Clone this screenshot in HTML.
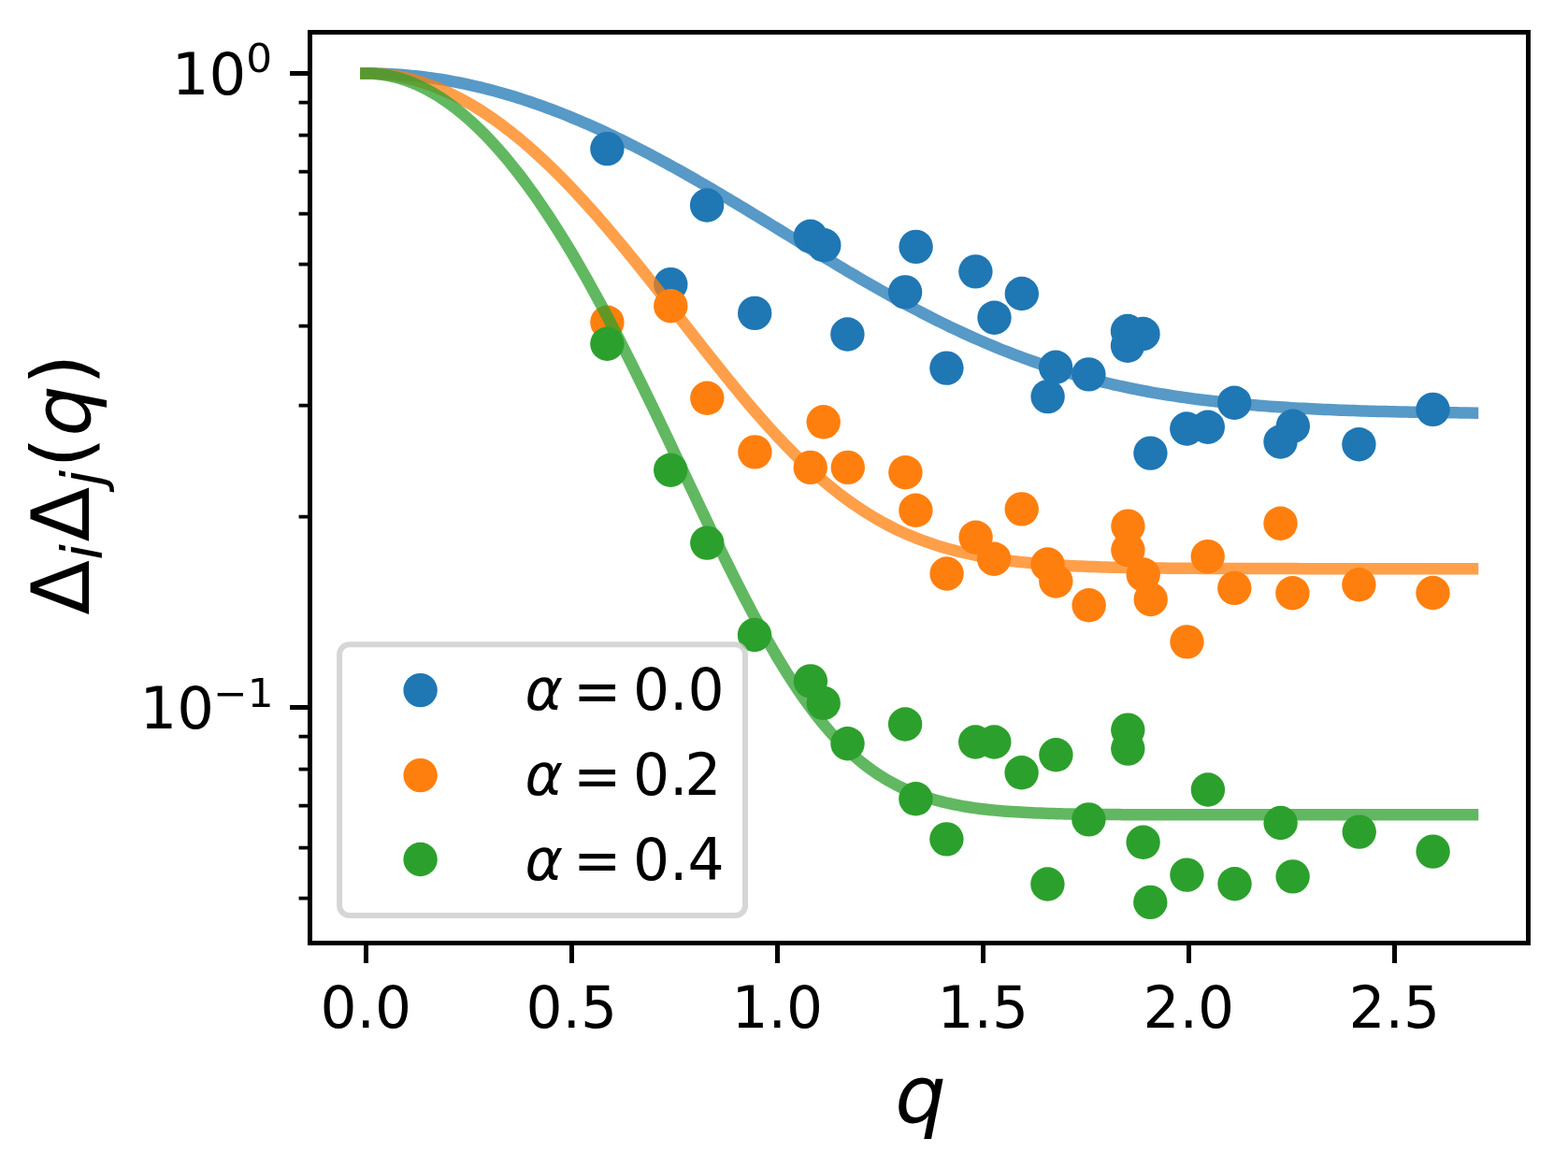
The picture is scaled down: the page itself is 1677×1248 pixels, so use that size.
<!DOCTYPE html>
<html lang="en"><head><meta charset="utf-8"><title>Gap correlations</title>
<style>html,body{margin:0;padding:0;background:#fff}body{width:1677px;height:1248px;overflow:hidden}svg{display:block}text{font-family:"DejaVu Sans","Liberation Sans",sans-serif;fill:#000}.it{font-style:oblique}</style></head>
<body>
<svg width="1677" height="1248" viewBox="0 0 1677 1248">
<rect width="1677" height="1248" fill="#fff"/>
<defs><clipPath id="ax"><rect x="331.5" y="34.5" width="1303" height="974"/></clipPath></defs>
<g id="data" clip-path="url(#ax)">
<path d="M391.4 78.5 L395.8 78.52 L400.2 78.58 L404.6 78.68 L409 78.81 L413.4 78.99 L417.8 79.2 L422.2 79.46 L426.6 79.75 L431 80.08 L435.4 80.45 L439.8 80.86 L444.2 81.31 L448.6 81.79 L453 82.32 L457.4 82.88 L461.8 83.48 L466.2 84.12 L470.6 84.8 L475 85.51 L479.4 86.27 L483.8 87.06 L488.2 87.89 L492.6 88.75 L497 89.66 L501.4 90.6 L505.8 91.57 L510.2 92.59 L514.6 93.64 L519 94.73 L523.4 95.85 L527.8 97.01 L532.2 98.21 L536.6 99.44 L541 100.71 L545.4 102.01 L549.8 103.35 L554.2 104.72 L558.6 106.13 L563 107.57 L567.4 109.04 L571.8 110.55 L576.2 112.09 L580.6 113.67 L585 115.28 L589.4 116.92 L593.8 118.59 L598.2 120.29 L602.6 122.03 L607 123.8 L611.4 125.6 L615.8 127.42 L620.2 129.28 L624.6 131.17 L629 133.09 L633.4 135.04 L637.8 137.01 L642.2 139.02 L646.6 141.05 L651 143.11 L655.4 145.19 L659.8 147.3 L664.2 149.44 L668.6 151.6 L673 153.79 L677.4 156 L681.8 158.24 L686.2 160.5 L690.6 162.78 L695 165.09 L699.4 167.42 L703.8 169.77 L708.2 172.14 L712.6 174.53 L717 176.94 L721.4 179.37 L725.8 181.81 L730.2 184.28 L734.6 186.76 L739 189.26 L743.4 191.78 L747.8 194.31 L752.2 196.85 L756.6 199.41 L761 201.98 L765.4 204.57 L769.8 207.17 L774.2 209.78 L778.6 212.4 L783 215.03 L787.4 217.67 L791.8 220.32 L796.2 222.97 L800.6 225.64 L805 228.31 L809.4 230.98 L813.8 233.66 L818.2 236.35 L822.6 239.04 L827 241.73 L831.4 244.42 L835.8 247.12 L840.2 249.81 L844.6 252.51 L849 255.2 L853.4 257.89 L857.8 260.58 L862.2 263.27 L866.6 265.95 L871 268.62 L875.4 271.29 L879.8 273.96 L884.2 276.62 L888.6 279.27 L893 281.91 L897.4 284.54 L901.8 287.16 L906.2 289.77 L910.6 292.37 L915 294.96 L919.4 297.53 L923.8 300.09 L928.2 302.63 L932.6 305.16 L937 307.68 L941.4 310.17 L945.8 312.65 L950.2 315.11 L954.6 317.56 L959 319.98 L963.4 322.39 L967.8 324.77 L972.2 327.14 L976.6 329.48 L981 331.8 L985.4 334.1 L989.8 336.37 L994.2 338.62 L998.6 340.85 L1003 343.05 L1007.4 345.23 L1011.8 347.38 L1016.2 349.51 L1020.6 351.61 L1025 353.69 L1029.4 355.73 L1033.8 357.76 L1038.2 359.75 L1042.6 361.71 L1047 363.65 L1051.4 365.56 L1055.8 367.44 L1060.2 369.3 L1064.6 371.12 L1069 372.92 L1073.4 374.68 L1077.8 376.42 L1082.2 378.13 L1086.6 379.81 L1091 381.46 L1095.4 383.08 L1099.8 384.67 L1104.2 386.24 L1108.6 387.77 L1113 389.27 L1117.4 390.75 L1121.8 392.2 L1126.2 393.61 L1130.6 395 L1135 396.36 L1139.4 397.69 L1143.8 399 L1148.2 400.27 L1152.6 401.52 L1157 402.74 L1161.4 403.93 L1165.8 405.1 L1170.2 406.24 L1174.6 407.35 L1179 408.44 L1183.4 409.5 L1187.8 410.53 L1192.2 411.54 L1196.6 412.52 L1201 413.48 L1205.4 414.42 L1209.8 415.33 L1214.2 416.21 L1218.6 417.08 L1223 417.92 L1227.4 418.74 L1231.8 419.53 L1236.2 420.31 L1240.6 421.06 L1245 421.79 L1249.4 422.5 L1253.8 423.19 L1258.2 423.86 L1262.6 424.51 L1267 425.15 L1271.4 425.76 L1275.8 426.36 L1280.2 426.93 L1284.6 427.49 L1289 428.04 L1293.4 428.56 L1297.8 429.07 L1302.2 429.56 L1306.6 430.04 L1311 430.5 L1315.4 430.95 L1319.8 431.38 L1324.2 431.8 L1328.6 432.21 L1333 432.6 L1337.4 432.98 L1341.8 433.34 L1346.2 433.7 L1350.6 434.04 L1355 434.37 L1359.4 434.69 L1363.8 434.99 L1368.2 435.29 L1372.6 435.58 L1377 435.85 L1381.4 436.12 L1385.8 436.37 L1390.2 436.62 L1394.6 436.86 L1399 437.09 L1403.4 437.31 L1407.8 437.52 L1412.2 437.72 L1416.6 437.92 L1421 438.11 L1425.4 438.29 L1429.8 438.47 L1434.2 438.64 L1438.6 438.8 L1443 438.95 L1447.4 439.1 L1451.8 439.25 L1456.2 439.38 L1460.6 439.52 L1465 439.64 L1469.4 439.77 L1473.8 439.88 L1478.2 439.99 L1482.6 440.1 L1487 440.21 L1491.4 440.3 L1495.8 440.4 L1500.2 440.49 L1504.6 440.58 L1509 440.66 L1513.4 440.74 L1517.8 440.82 L1522.2 440.89 L1526.6 440.96 L1531 441.03 L1535.4 441.09 L1539.8 441.15 L1544.2 441.21 L1548.6 441.27 L1553 441.32 L1557.4 441.37 L1561.8 441.42 L1566.2 441.47 L1570.6 441.51 L1575 441.56" fill="none" stroke="#1f77b4" stroke-opacity="0.75" stroke-width="12.5" stroke-linecap="square" stroke-linejoin="round"/>
<g fill="#1f77b4">
<circle cx="649.4" cy="159.1" r="18.2"/>
<circle cx="717.3" cy="304.1" r="18.2"/>
<circle cx="756.1" cy="219.5" r="18.2"/>
<circle cx="807.2" cy="334.9" r="18.2"/>
<circle cx="866.8" cy="252.8" r="18.2"/>
<circle cx="881.3" cy="262.3" r="18.2"/>
<circle cx="906.4" cy="357.5" r="18.2"/>
<circle cx="968.1" cy="312.4" r="18.2"/>
<circle cx="979.6" cy="263.9" r="18.2"/>
<circle cx="1012.4" cy="393.6" r="18.2"/>
<circle cx="1043.4" cy="290.4" r="18.2"/>
<circle cx="1063.5" cy="339.7" r="18.2"/>
<circle cx="1092.8" cy="314" r="18.2"/>
<circle cx="1120.6" cy="424.1" r="18.2"/>
<circle cx="1129.1" cy="392.8" r="18.2"/>
<circle cx="1164.4" cy="400.4" r="18.2"/>
<circle cx="1206" cy="354" r="18.2"/>
<circle cx="1206" cy="369.8" r="18.2"/>
<circle cx="1222.5" cy="357" r="18.2"/>
<circle cx="1230.4" cy="484.6" r="18.2"/>
<circle cx="1269.3" cy="458.5" r="18.2"/>
<circle cx="1291.8" cy="456.7" r="18.2"/>
<circle cx="1320.2" cy="430.7" r="18.2"/>
<circle cx="1369.5" cy="472.5" r="18.2"/>
<circle cx="1382.8" cy="455.7" r="18.2"/>
<circle cx="1453.4" cy="475.2" r="18.2"/>
<circle cx="1532.5" cy="437.9" r="18.2"/>
</g>
<path d="M391.4 78.5 L395.8 78.55 L400.2 78.71 L404.6 78.96 L409 79.33 L413.4 79.79 L417.8 80.36 L422.2 81.03 L426.6 81.8 L431 82.68 L435.4 83.65 L439.8 84.73 L444.2 85.91 L448.6 87.2 L453 88.58 L457.4 90.07 L461.8 91.66 L466.2 93.34 L470.6 95.13 L475 97.02 L479.4 99 L483.8 101.09 L488.2 103.27 L492.6 105.55 L497 107.93 L501.4 110.4 L505.8 112.97 L510.2 115.64 L514.6 118.4 L519 121.25 L523.4 124.2 L527.8 127.24 L532.2 130.37 L536.6 133.6 L541 136.91 L545.4 140.31 L549.8 143.8 L554.2 147.38 L558.6 151.04 L563 154.79 L567.4 158.62 L571.8 162.54 L576.2 166.53 L580.6 170.61 L585 174.77 L589.4 179 L593.8 183.31 L598.2 187.69 L602.6 192.15 L607 196.68 L611.4 201.27 L615.8 205.94 L620.2 210.67 L624.6 215.47 L629 220.33 L633.4 225.25 L637.8 230.23 L642.2 235.27 L646.6 240.36 L651 245.5 L655.4 250.7 L659.8 255.94 L664.2 261.23 L668.6 266.56 L673 271.93 L677.4 277.34 L681.8 282.78 L686.2 288.26 L690.6 293.77 L695 299.3 L699.4 304.86 L703.8 310.43 L708.2 316.03 L712.6 321.64 L717 327.27 L721.4 332.9 L725.8 338.54 L730.2 344.18 L734.6 349.82 L739 355.45 L743.4 361.08 L747.8 366.69 L752.2 372.29 L756.6 377.87 L761 383.43 L765.4 388.97 L769.8 394.47 L774.2 399.94 L778.6 405.38 L783 410.78 L787.4 416.14 L791.8 421.45 L796.2 426.71 L800.6 431.92 L805 437.07 L809.4 442.17 L813.8 447.2 L818.2 452.17 L822.6 457.07 L827 461.9 L831.4 466.66 L835.8 471.34 L840.2 475.95 L844.6 480.47 L849 484.91 L853.4 489.27 L857.8 493.54 L862.2 497.73 L866.6 501.82 L871 505.83 L875.4 509.74 L879.8 513.56 L884.2 517.29 L888.6 520.92 L893 524.46 L897.4 527.9 L901.8 531.24 L906.2 534.5 L910.6 537.65 L915 540.71 L919.4 543.68 L923.8 546.55 L928.2 549.33 L932.6 552.02 L937 554.61 L941.4 557.12 L945.8 559.54 L950.2 561.87 L954.6 564.11 L959 566.27 L963.4 568.34 L967.8 570.34 L972.2 572.25 L976.6 574.09 L981 575.85 L985.4 577.53 L989.8 579.15 L994.2 580.69 L998.6 582.17 L1003 583.58 L1007.4 584.92 L1011.8 586.2 L1016.2 587.43 L1020.6 588.59 L1025 589.7 L1029.4 590.76 L1033.8 591.76 L1038.2 592.72 L1042.6 593.62 L1047 594.48 L1051.4 595.29 L1055.8 596.07 L1060.2 596.8 L1064.6 597.49 L1069 598.15 L1073.4 598.76 L1077.8 599.35 L1082.2 599.9 L1086.6 600.42 L1091 600.92 L1095.4 601.38 L1099.8 601.82 L1104.2 602.23 L1108.6 602.62 L1113 602.98 L1117.4 603.32 L1121.8 603.65 L1126.2 603.95 L1130.6 604.23 L1135 604.5 L1139.4 604.75 L1143.8 604.98 L1148.2 605.2 L1152.6 605.41 L1157 605.6 L1161.4 605.78 L1165.8 605.95 L1170.2 606.11 L1174.6 606.25 L1179 606.39 L1183.4 606.52 L1187.8 606.64 L1192.2 606.75 L1196.6 606.85 L1201 606.95 L1205.4 607.04 L1209.8 607.12 L1214.2 607.2 L1218.6 607.27 L1223 607.34 L1227.4 607.4 L1231.8 607.46 L1236.2 607.51 L1240.6 607.56 L1245 607.61 L1249.4 607.65 L1253.8 607.69 L1258.2 607.73 L1262.6 607.76 L1267 607.79 L1271.4 607.82 L1275.8 607.85 L1280.2 607.87 L1284.6 607.9 L1289 607.92 L1293.4 607.94 L1297.8 607.96 L1302.2 607.97 L1306.6 607.99 L1311 608 L1315.4 608.01 L1319.8 608.03 L1324.2 608.04 L1328.6 608.05 L1333 608.06 L1337.4 608.06 L1341.8 608.07 L1346.2 608.08 L1350.6 608.09 L1355 608.09 L1359.4 608.1 L1363.8 608.1 L1368.2 608.11 L1372.6 608.11 L1377 608.12 L1381.4 608.12 L1385.8 608.12 L1390.2 608.13 L1394.6 608.13 L1399 608.13 L1403.4 608.13 L1407.8 608.13 L1412.2 608.14 L1416.6 608.14 L1421 608.14 L1425.4 608.14 L1429.8 608.14 L1434.2 608.14 L1438.6 608.14 L1443 608.15 L1447.4 608.15 L1451.8 608.15 L1456.2 608.15 L1460.6 608.15 L1465 608.15 L1469.4 608.15 L1473.8 608.15 L1478.2 608.15 L1482.6 608.15 L1487 608.15 L1491.4 608.15 L1495.8 608.15 L1500.2 608.15 L1504.6 608.15 L1509 608.15 L1513.4 608.15 L1517.8 608.15 L1522.2 608.15 L1526.6 608.15 L1531 608.15 L1535.4 608.15 L1539.8 608.15 L1544.2 608.15 L1548.6 608.15 L1553 608.15 L1557.4 608.15 L1561.8 608.15 L1566.2 608.15 L1570.6 608.15 L1575 608.15" fill="none" stroke="#ff7f0e" stroke-opacity="0.75" stroke-width="12.5" stroke-linecap="square" stroke-linejoin="round"/>
<g fill="#ff7f0e">
<circle cx="649.4" cy="344.7" r="18.2"/>
<circle cx="717.3" cy="327.2" r="18.2"/>
<circle cx="756.3" cy="425.8" r="18.2"/>
<circle cx="807.4" cy="483.4" r="18.2"/>
<circle cx="866.7" cy="499.9" r="18.2"/>
<circle cx="880.7" cy="451.3" r="18.2"/>
<circle cx="906.8" cy="499.9" r="18.2"/>
<circle cx="968.4" cy="505.2" r="18.2"/>
<circle cx="979.4" cy="545.8" r="18.2"/>
<circle cx="1012.6" cy="613.5" r="18.2"/>
<circle cx="1043.6" cy="574.7" r="18.2"/>
<circle cx="1063.1" cy="597.7" r="18.2"/>
<circle cx="1092.7" cy="544.4" r="18.2"/>
<circle cx="1120.5" cy="603.5" r="18.2"/>
<circle cx="1129.3" cy="621.5" r="18.2"/>
<circle cx="1164.6" cy="647.3" r="18.2"/>
<circle cx="1206.4" cy="562.6" r="18.2"/>
<circle cx="1206.4" cy="588.2" r="18.2"/>
<circle cx="1222.7" cy="614.5" r="18.2"/>
<circle cx="1230.7" cy="641" r="18.2"/>
<circle cx="1269.5" cy="686.4" r="18.2"/>
<circle cx="1291.7" cy="595.1" r="18.2"/>
<circle cx="1320.3" cy="628.9" r="18.2"/>
<circle cx="1369.5" cy="559.7" r="18.2"/>
<circle cx="1382.4" cy="634.2" r="18.2"/>
<circle cx="1453.4" cy="625.3" r="18.2"/>
<circle cx="1532.5" cy="634" r="18.2"/>
</g>
<path d="M391.4 78.5 L395.8 78.58 L400.2 78.82 L404.6 79.21 L409 79.77 L413.4 80.48 L417.8 81.35 L422.2 82.37 L426.6 83.56 L431 84.9 L435.4 86.4 L439.8 88.06 L444.2 89.88 L448.6 91.85 L453 93.98 L457.4 96.26 L461.8 98.7 L466.2 101.3 L470.6 104.05 L475 106.96 L479.4 110.02 L483.8 113.23 L488.2 116.6 L492.6 120.12 L497 123.8 L501.4 127.63 L505.8 131.61 L510.2 135.74 L514.6 140.02 L519 144.45 L523.4 149.03 L527.8 153.75 L532.2 158.63 L536.6 163.65 L541 168.82 L545.4 174.13 L549.8 179.58 L554.2 185.18 L558.6 190.92 L563 196.8 L567.4 202.82 L571.8 208.97 L576.2 215.27 L580.6 221.69 L585 228.25 L589.4 234.95 L593.8 241.77 L598.2 248.72 L602.6 255.8 L607 263 L611.4 270.32 L615.8 277.76 L620.2 285.32 L624.6 293 L629 300.79 L633.4 308.69 L637.8 316.7 L642.2 324.81 L646.6 333.02 L651 341.33 L655.4 349.73 L659.8 358.23 L664.2 366.81 L668.6 375.48 L673 384.23 L677.4 393.05 L681.8 401.94 L686.2 410.9 L690.6 419.92 L695 429 L699.4 438.12 L703.8 447.3 L708.2 456.51 L712.6 465.76 L717 475.04 L721.4 484.34 L725.8 493.66 L730.2 502.98 L734.6 512.31 L739 521.63 L743.4 530.94 L747.8 540.24 L752.2 549.51 L756.6 558.74 L761 567.93 L765.4 577.07 L769.8 586.16 L774.2 595.18 L778.6 604.13 L783 613 L787.4 621.77 L791.8 630.45 L796.2 639.03 L800.6 647.49 L805 655.83 L809.4 664.05 L813.8 672.13 L818.2 680.07 L822.6 687.86 L827 695.49 L831.4 702.97 L835.8 710.27 L840.2 717.41 L844.6 724.37 L849 731.15 L853.4 737.74 L857.8 744.15 L862.2 750.36 L866.6 756.39 L871 762.21 L875.4 767.84 L879.8 773.28 L884.2 778.52 L888.6 783.56 L893 788.41 L897.4 793.06 L901.8 797.52 L906.2 801.8 L910.6 805.88 L915 809.78 L919.4 813.5 L923.8 817.05 L928.2 820.42 L932.6 823.63 L937 826.67 L941.4 829.56 L945.8 832.29 L950.2 834.87 L954.6 837.32 L959 839.62 L963.4 841.79 L967.8 843.84 L972.2 845.76 L976.6 847.57 L981 849.27 L985.4 850.86 L989.8 852.35 L994.2 853.75 L998.6 855.05 L1003 856.27 L1007.4 857.41 L1011.8 858.47 L1016.2 859.46 L1020.6 860.38 L1025 861.24 L1029.4 862.04 L1033.8 862.77 L1038.2 863.46 L1042.6 864.1 L1047 864.69 L1051.4 865.23 L1055.8 865.74 L1060.2 866.2 L1064.6 866.63 L1069 867.03 L1073.4 867.4 L1077.8 867.73 L1082.2 868.05 L1086.6 868.33 L1091 868.59 L1095.4 868.84 L1099.8 869.06 L1104.2 869.26 L1108.6 869.45 L1113 869.62 L1117.4 869.78 L1121.8 869.92 L1126.2 870.05 L1130.6 870.17 L1135 870.28 L1139.4 870.38 L1143.8 870.47 L1148.2 870.56 L1152.6 870.63 L1157 870.7 L1161.4 870.77 L1165.8 870.82 L1170.2 870.87 L1174.6 870.92 L1179 870.97 L1183.4 871 L1187.8 871.04 L1192.2 871.07 L1196.6 871.1 L1201 871.13 L1205.4 871.15 L1209.8 871.17 L1214.2 871.19 L1218.6 871.21 L1223 871.22 L1227.4 871.24 L1231.8 871.25 L1236.2 871.26 L1240.6 871.27 L1245 871.28 L1249.4 871.29 L1253.8 871.3 L1258.2 871.3 L1262.6 871.31 L1267 871.32 L1271.4 871.32 L1275.8 871.33 L1280.2 871.33 L1284.6 871.33 L1289 871.34 L1293.4 871.34 L1297.8 871.34 L1302.2 871.34 L1306.6 871.35 L1311 871.35 L1315.4 871.35 L1319.8 871.35 L1324.2 871.35 L1328.6 871.35 L1333 871.35 L1337.4 871.35 L1341.8 871.36 L1346.2 871.36 L1350.6 871.36 L1355 871.36 L1359.4 871.36 L1363.8 871.36 L1368.2 871.36 L1372.6 871.36 L1377 871.36 L1381.4 871.36 L1385.8 871.36 L1390.2 871.36 L1394.6 871.36 L1399 871.36 L1403.4 871.36 L1407.8 871.36 L1412.2 871.36 L1416.6 871.36 L1421 871.36 L1425.4 871.36 L1429.8 871.36 L1434.2 871.36 L1438.6 871.36 L1443 871.36 L1447.4 871.36 L1451.8 871.36 L1456.2 871.36 L1460.6 871.36 L1465 871.36 L1469.4 871.36 L1473.8 871.36 L1478.2 871.36 L1482.6 871.36 L1487 871.36 L1491.4 871.36 L1495.8 871.36 L1500.2 871.36 L1504.6 871.36 L1509 871.36 L1513.4 871.36 L1517.8 871.36 L1522.2 871.36 L1526.6 871.36 L1531 871.36 L1535.4 871.36 L1539.8 871.36 L1544.2 871.36 L1548.6 871.36 L1553 871.36 L1557.4 871.36 L1561.8 871.36 L1566.2 871.36 L1570.6 871.36 L1575 871.36" fill="none" stroke="#2ca02c" stroke-opacity="0.75" stroke-width="12.5" stroke-linecap="square" stroke-linejoin="round"/>
<g fill="#2ca02c">
<circle cx="649.4" cy="367.7" r="18.2"/>
<circle cx="717.2" cy="502.7" r="18.2"/>
<circle cx="756.3" cy="580.6" r="18.2"/>
<circle cx="807" cy="679" r="18.2"/>
<circle cx="866.9" cy="728.4" r="18.2"/>
<circle cx="880.7" cy="751.9" r="18.2"/>
<circle cx="906.5" cy="795.2" r="18.2"/>
<circle cx="968.1" cy="774.5" r="18.2"/>
<circle cx="979.4" cy="854.3" r="18.2"/>
<circle cx="1012.4" cy="897.4" r="18.2"/>
<circle cx="1043.2" cy="793.5" r="18.2"/>
<circle cx="1063.3" cy="793.5" r="18.2"/>
<circle cx="1092.6" cy="826.3" r="18.2"/>
<circle cx="1120.4" cy="945.5" r="18.2"/>
<circle cx="1129.4" cy="807.3" r="18.2"/>
<circle cx="1164.4" cy="876.4" r="18.2"/>
<circle cx="1206.3" cy="780.6" r="18.2"/>
<circle cx="1206.3" cy="800.6" r="18.2"/>
<circle cx="1222.6" cy="900.8" r="18.2"/>
<circle cx="1230.3" cy="964.9" r="18.2"/>
<circle cx="1269.4" cy="935.6" r="18.2"/>
<circle cx="1291.9" cy="844.5" r="18.2"/>
<circle cx="1320.5" cy="945.2" r="18.2"/>
<circle cx="1369.6" cy="880" r="18.2"/>
<circle cx="1382.6" cy="937.4" r="18.2"/>
<circle cx="1453.7" cy="889.6" r="18.2"/>
<circle cx="1532.6" cy="910.6" r="18.2"/>
</g>
</g>
<g id="legend">
<rect x="363.1" y="689.2" width="433.9" height="289.7" rx="10.5" ry="10.5" fill="#fff" fill-opacity="0.8" stroke="#ccc" stroke-opacity="0.8" stroke-width="6"/>
<circle cx="449.6" cy="738.1" r="18.2" fill="#1f77b4"/>
<text y="759" font-size="61.5"><tspan class="it" x="561.62">α</tspan><tspan x="612.96" dy="1.6">=</tspan><tspan x="676.92" dy="-1.6">0.0</tspan></text>
<circle cx="449.6" cy="829.1" r="18.2" fill="#ff7f0e"/>
<text y="849.9" font-size="61.5"><tspan class="it" x="561.62">α</tspan><tspan x="612.96" dy="1.6">=</tspan><tspan x="676.92" dy="-1.6" dx="0 0 -3.3">0.2</tspan></text>
<circle cx="449.6" cy="919" r="18.2" fill="#2ca02c"/>
<text y="940.5" font-size="61.5"><tspan class="it" x="561.62">α</tspan><tspan x="612.96" dy="1.6">=</tspan><tspan x="676.92" dy="-1.6">0.4</tspan></text>
</g>
<g id="axes" stroke="#000" fill="none">
<path d="M391.5 1008.5 v21.4M611.5 1008.5 v21.4M831.5 1008.5 v21.4M1051.5 1008.5 v21.4M1271.5 1008.5 v21.4M1491.5 1008.5 v21.4M331.5 78.5 h-21.4M331.5 756.5 h-21.4" stroke-width="5"/>
<path d="M331.5 109.5 h-11.9M331.5 144.5 h-11.9M331.5 183.5 h-11.9M331.5 228.5 h-11.9M331.5 282.5 h-11.9M331.5 348.5 h-11.9M331.5 433.5 h-11.9M331.5 552.5 h-11.9M331.5 787.5 h-11.9M331.5 822.5 h-11.9M331.5 861.5 h-11.9M331.5 906.5 h-11.9M331.5 960.5 h-11.9" stroke-width="3.75"/>
<rect x="331.5" y="34.5" width="1303" height="974" stroke-width="5"/>
</g>
<g id="xticklabels" font-size="62.5" text-anchor="middle">
<text transform="translate(391.2 1099) scale(0.982 1)">0.0</text>
<text transform="translate(611.2 1099) scale(0.982 1)">0.5</text>
<text transform="translate(831.2 1099) scale(0.982 1)">1.0</text>
<text transform="translate(1051.2 1099) scale(0.982 1)">1.5</text>
<text transform="translate(1271.2 1099) scale(0.982 1)">2.0</text>
<text transform="translate(1491.2 1099) scale(0.982 1)">2.5</text>
</g>
<g id="yticklabels">
<text x="183.8" y="100.75" font-size="62.5">10</text><text transform="translate(263.3 77) scale(1 0.965)" font-size="43.75">0</text>
<text x="149.4" y="778.6" font-size="62.5">10</text><text transform="translate(228 755.6) scale(1 0.965)" font-size="43.75">−1</text>
</g>
<text class="it" x="957.3" y="1199.7" font-size="86">q</text>
<g id="ylabel" transform="translate(94.9 657) rotate(-90)">
<text y="0" font-size="86"><tspan x="-0.74">Δ</tspan><tspan class="it" x="58.16" y="14" font-size="60.2">i</tspan><tspan x="77.51" y="0" font-size="86">Δ</tspan><tspan class="it" x="137.27" y="14" font-size="60.2">j</tspan><tspan x="156.2" y="0" font-size="86">(</tspan><tspan class="it" x="190.38" y="1">q</tspan><tspan x="245" y="0">)</tspan></text>
</g>
</svg>
</body></html>
